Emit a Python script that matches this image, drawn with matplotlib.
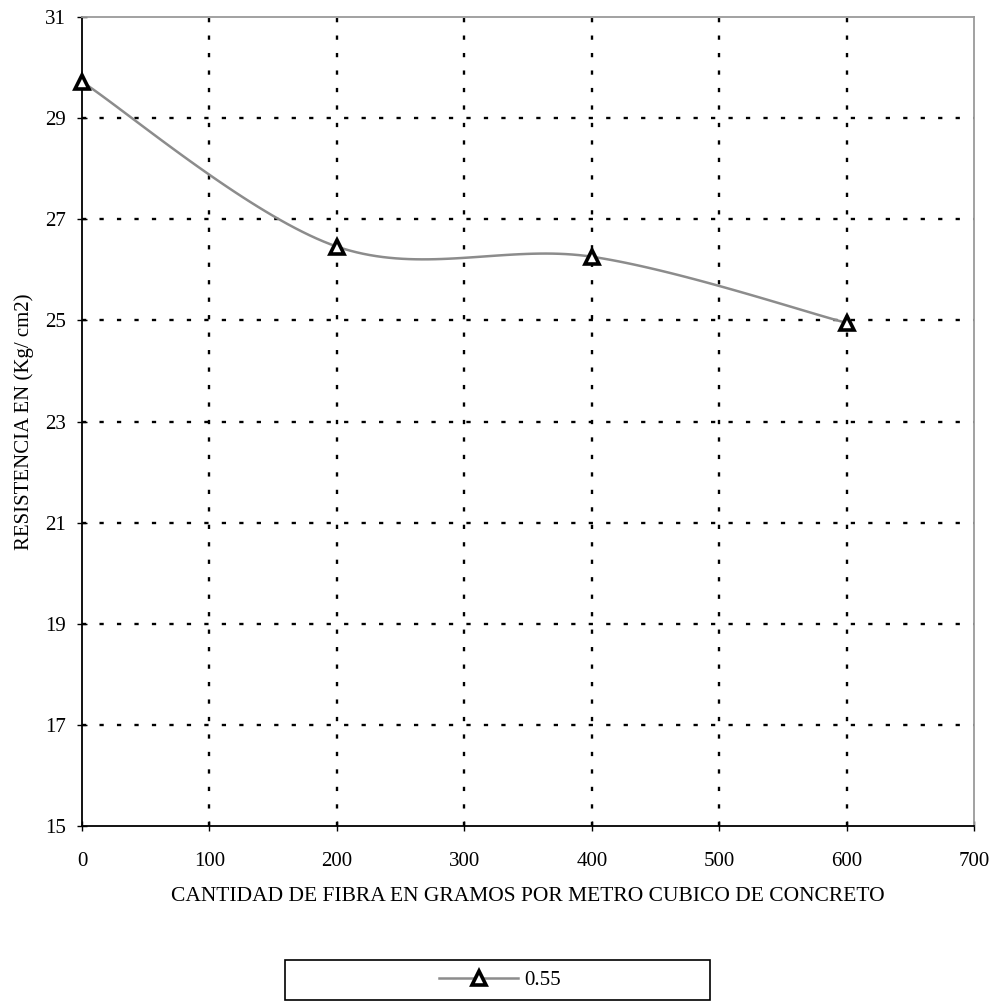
import numpy as np
import matplotlib
matplotlib.use('Agg')
import matplotlib.pyplot as plt
from matplotlib.patches import Rectangle
from matplotlib.lines import Line2D

plt.rcParams.update({
    'font.family': ['Liberation Serif', 'DejaVu Serif'],
    'font.size': 15,
})

# fibra (g/m3) vs resistencia (kg/cm2), relacion a/c 0.55
fibra = [0, 200, 400, 600]
resistencia = [29.72, 26.46, 26.26, 24.95]
serie = '0.55'

x_ticks = [0, 100, 200, 300, 400, 500, 600, 700]
y_ticks = [15, 17, 19, 21, 23, 25, 27, 29, 31]


def suavizar(x, y, n=40):
    """Curva suavizada tipo Catmull-Rom que pasa por los puntos."""
    x = np.asarray(x, float)
    y = np.asarray(y, float)
    px = np.concatenate([[x[0]], x, [x[-1]]])
    py = np.concatenate([[y[0]], y, [y[-1]]])
    xs, ys = [], []
    t = np.linspace(0, 1, n)
    for i in range(1, len(px) - 2):
        mx0 = (px[i + 1] - px[i - 1]) / 2
        mx1 = (px[i + 2] - px[i]) / 2
        my0 = (py[i + 1] - py[i - 1]) / 2
        my1 = (py[i + 2] - py[i]) / 2
        h00 = 2 * t**3 - 3 * t**2 + 1
        h10 = t**3 - 2 * t**2 + t
        h01 = -2 * t**3 + 3 * t**2
        h11 = t**3 - t**2
        xs.append(h00 * px[i] + h10 * mx0 + h01 * px[i + 1] + h11 * mx1)
        ys.append(h00 * py[i] + h10 * my0 + h01 * py[i + 1] + h11 * my1)
    return np.concatenate(xs), np.concatenate(ys)


fig = plt.figure(figsize=(9.93, 10.06), dpi=100)
ax = fig.add_axes([0.0826, 0.179, 0.8985, 0.804])

ax.set_xlim(0, 700)
ax.set_ylim(15, 31)
ax.set_xticks(x_ticks)
ax.set_yticks(y_ticks)
ax.tick_params(axis='both', labelsize=15, direction='inout', length=7,
               width=1, color='black')
ax.tick_params(axis='x', pad=15)
ax.tick_params(axis='y', pad=8)

# cuadricula punteada
grid_kw = dict(color='black', lw=1.7, dashes=(1.8, 5.6))
for xv in x_ticks[1:-1]:
    ax.axvline(xv, **grid_kw, zorder=1)
for yv in y_ticks[1:-1]:
    ax.axhline(yv, **grid_kw, zorder=1)

for s in ['left', 'bottom']:
    ax.spines[s].set_color('black')
    ax.spines[s].set_linewidth(1.3)
for s in ['top', 'right']:
    ax.spines[s].set_color('#9a9a9a')
    ax.spines[s].set_linewidth(1.3)
    ax.spines[s].set_linestyle((0, (2, 1)))

sx, sy = suavizar(fibra, resistencia)
ax.plot(sx, sy, color='#8c8c8c', lw=1.8, zorder=3, clip_on=False)
ax.plot(fibra, resistencia, ls='none', marker='^', ms=10.5, mfc='white',
        mec='black', mew=2.6, zorder=4, clip_on=False)

ax.set_xlabel('CANTIDAD DE FIBRA EN GRAMOS POR METRO CUBICO DE CONCRETO',
              fontsize=15.5, labelpad=12)
ax.set_ylabel('RESISTENCIA EN (Kg/ cm2)', fontsize=15, labelpad=8)

# recuadro de la leyenda
fig.patches.append(Rectangle((285 / 993, 1 - 1000 / 1006), 425 / 993, 40 / 1006,
                             transform=fig.transFigure, fill=False,
                             edgecolor='black', lw=1.2))
handle = Line2D([], [], color='#8c8c8c', lw=1.8, marker='^', ms=10.5,
                mfc='white', mec='black', mew=2.6)
fig.legend([handle], [serie], loc='center',
           bbox_to_anchor=(500 / 993, 1 - 980 / 1006), frameon=False,
           fontsize=15, handlelength=3.8, handletextpad=0.3)

fig.savefig('out.png', dpi=100, facecolor='white')
